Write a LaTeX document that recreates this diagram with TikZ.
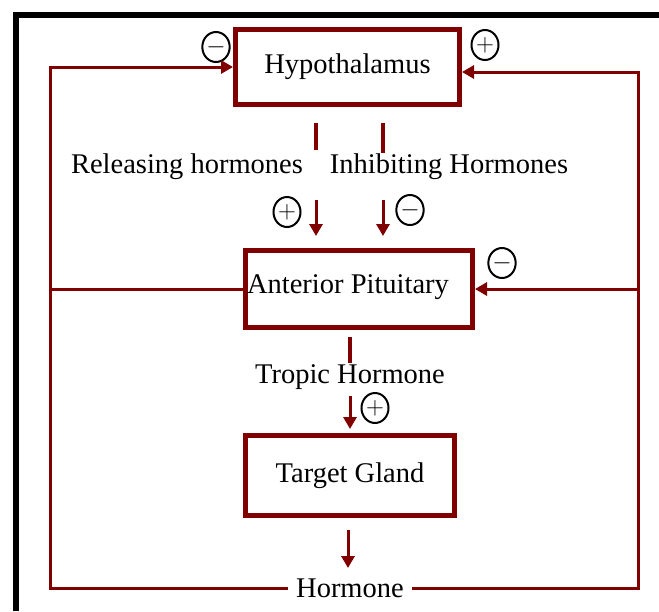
\documentclass[tikz,border=0pt]{standalone}
\usepackage{fontspec}
\setmainfont{Liberation Serif}
\usetikzlibrary{arrows.meta,shapes.geometric}
\definecolor{glandred}{RGB}{128,0,0}
\begin{document}
\begin{tikzpicture}[x=1pt, y=-1pt,
        box/.style={draw=glandred, line width=5pt, inner sep=0pt, font=\fontsize{28.5}{30}\selectfont},
        txt/.style={font=\fontsize{28.5}{30}\selectfont, inner sep=8pt},
        sign/.style={ellipse, draw, line width=2pt, minimum width=27pt, minimum height=30pt, inner sep=0pt, font=\fontsize{24}{24}\selectfont},
        fb/.style={draw=glandred, line width=3pt},
        stub/.style={draw=glandred, line width=4pt},
        arr/.style={draw=glandred, line width=3pt, -{Triangle[length=12pt,width=13pt]}}]
        \useasboundingbox (0,0) rectangle (659,611);
        % frame
        \draw[line width=6pt] (16,611) -- (16,15) -- (659,15);

        \node[box, minimum width=224pt, minimum height=75pt] (hyp) at (347.5,67) {Hypothalamus};
        \node[box, minimum width=227pt, minimum height=77pt] (ant) at (359,289) {};
        \node[txt] (antlbl) at (348,287) {Anterior Pituitary};
        \node[box, minimum width=209pt, minimum height=80pt] (tgt) at (350,475.5) {Target Gland};

        \node[txt] (rel) at (187,167) {Releasing hormones};
        \node[txt] (inh) at (449,167) {Inhibiting Hormones};
        \node[txt] (trop) at (350,377) {Tropic Hormone};
        \node[txt] (horm) at (350,588) {Hormone};

        \node[sign] (hypminus) at (216,47) {$-$};
        \node[sign] (hypplus) at (485,45) {$+$};
        \node[sign] (relplus) at (287,212) {$+$};
        \node[sign] (inhminus) at (410,210) {$-$};
        \node[sign] (antminus) at (502,263) {$-$};
        \node[sign] (tropplus) at (375,408) {$+$};

        % hypothalamus to pituitary
        \coordinate (r1) at (316,123); \coordinate (r2) at (316,150);
        \coordinate (r3) at (316,200); \coordinate (r4) at (316,236);
        \coordinate (i1) at (383,123); \coordinate (i2) at (383,153);
        \coordinate (i3) at (383,200); \coordinate (i4) at (383,236);
        \draw[stub] (r1) -- (r2);
        \draw[stub] (i1) -- (i2);
        \draw[arr] (r3) -- (r4);
        \draw[arr] (i3) -- (i4);

        % pituitary to target gland
        \coordinate (t1) at (350,337); \coordinate (t2) at (350,363);
        \coordinate (t3) at (350,396); \coordinate (t4) at (350,429);
        \draw[stub] (t1) -- (t2);
        \draw[arr] (t3) -- (t4);

        % target gland to hormone
        \coordinate (g1) at (348,530); \coordinate (g2) at (348,568);
        \draw[arr] (g1) -- (g2);

        % feedback loops
        \coordinate (lft) at (50,67);
        \coordinate (rgt) at (638,72);
        \coordinate (rmid) at (638,289);
        \draw[fb, -{Triangle[length=12pt,width=13pt]}] (horm.west) -| (lft) -- (hyp.west);
        \draw[fb, -{Triangle[length=12pt,width=13pt]}] (horm.east) -| (rgt) -- ([yshift=-5pt]hyp.east);
        \draw[fb] (ant.west) -- (ant.west -| lft);
        \draw[fb, -{Triangle[length=12pt,width=13pt]}] (rmid) -- (ant.east);
\end{tikzpicture}
\end{document}
